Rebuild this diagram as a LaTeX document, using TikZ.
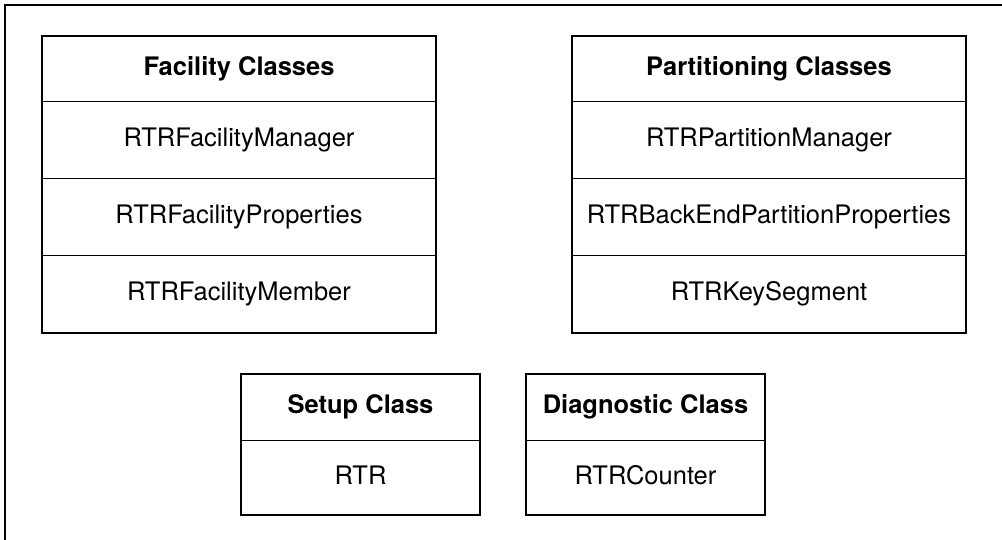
\documentclass[tikz,border=0pt]{standalone}
\usepackage{fontspec}
\setmainfont{TeX Gyre Heros}
\usepackage{tikz}
\usetikzlibrary{positioning}

\begin{document}
\begin{tikzpicture}[x=1pt,y=-1pt]
    % Local definitions
    \def\widebox{394pt}
    \def\narrowbox{239pt}

    % Styles
    \tikzstyle{classrow}=[draw,line width=1pt,inner sep=0pt,outer sep=0pt,
      minimum height=77pt,text height=18pt,text depth=5pt,
      font=\fontsize{25.5}{30}\selectfont]
    \tikzstyle{classhead}=[classrow,minimum height=66pt,
      font=\fontsize{25.5}{30}\selectfont\bfseries]
    \tikzstyle{classframe}=[line width=2pt]

    \useasboundingbox (0,0) rectangle (1002,540);

    % The graphic
    \draw[classframe] (5,540) -- (5,5) -- (1002,5);

    % Facility classes
    \node[classhead,minimum width=\widebox] (fac) at (239,69) {Facility Classes};
    \node[classrow,minimum width=\widebox,below=0pt of fac] (fac1) {RTRFacilityManager};
    \node[classrow,minimum width=\widebox,below=0pt of fac1] (fac2) {RTRFacilityProperties};
    \node[classrow,minimum width=\widebox,below=0pt of fac2] (fac3) {RTRFacilityMember};
    \draw[classframe] (fac.north west) rectangle (fac3.south east);

    % Partitioning classes
    \node[classhead,minimum width=\widebox] (part) at (769,69) {Partitioning Classes};
    \node[classrow,minimum width=\widebox,below=0pt of part] (part1) {RTRPartitionManager};
    \node[classrow,minimum width=\widebox,below=0pt of part1] (part2) {RTRBackEndPartitionProperties};
    \node[classrow,minimum width=\widebox,below=0pt of part2] (part3) {RTRKeySegment};
    \draw[classframe] (part.north west) rectangle (part3.south east);

    % Setup class
    \node[classhead,minimum width=\narrowbox,minimum height=67pt] (setup) at (360.5,407) {Setup Class};
    \node[classrow,minimum width=\narrowbox,minimum height=74pt,below=0pt of setup] (setup1) {RTR};
    \draw[classframe] (setup.north west) rectangle (setup1.south east);

    % Diagnostic class
    \node[classhead,minimum width=\narrowbox,minimum height=67pt] (diag) at (645.5,407) {Diagnostic Class};
    \node[classrow,minimum width=\narrowbox,minimum height=74pt,below=0pt of diag] (diag1) {RTRCounter};
    \draw[classframe] (diag.north west) rectangle (diag1.south east);
\end{tikzpicture}
\end{document}
